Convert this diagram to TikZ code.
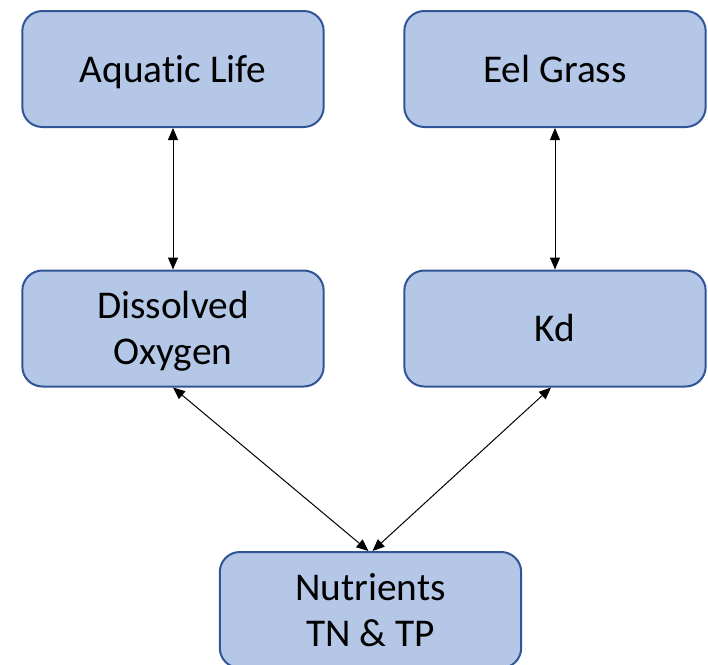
\documentclass[tikz,border=0pt]{standalone}
\usepackage{fontspec}
\setmainfont[Ligatures=NoCommon]{Carlito}
\usetikzlibrary{arrows.meta}
\definecolor{boxfill}{HTML}{B4C7E7}
\definecolor{boxline}{HTML}{2F5597}
\newcommand\bxstrut{\rule[-8.5pt]{0pt}{36.5pt}}
\newcommand\bxtop{\rule{0pt}{28pt}}
\newcommand\bxbot{\rule[-8.5pt]{0pt}{8.5pt}}
\begin{document}
\begin{tikzpicture}[x=0.75pt,y=-0.75pt,
  box/.style={draw=boxline,fill=boxfill,line width=1.5pt,rounded corners=15pt,
    minimum width=226pt,minimum height=87pt,inner sep=0pt,align=center,
    font=\fontsize{29.5}{34.5}\selectfont},
  link/.style={draw=black,line width=0.75pt,{Triangle[length=9pt,width=7.5pt]}-{Triangle[length=9pt,width=7.5pt]}}]
\useasboundingbox (0,0) rectangle (708,665);
\node[box] (al) at (173,69) {\bxstrut Aquatic Life};
\node[box] (eg) at (555,69) {\bxstrut Eel Grass};
\node[box] (do) at (173,328.5) {\bxtop Dissolved\\\bxbot Oxygen};
\node[box] (kd) at (555,328.5) {\bxstrut Kd};
\node[box] (nu) at (370.5,610) {\bxtop Nutrients\\\bxbot TN \& TP};
\draw[link] (al.south) -- (do.north);
\draw[link] (eg.south) -- (kd.north);
\draw[link] (do.south) -- ([xshift=-1.5pt]nu.north);
\draw[link] ([xshift=-3pt]kd.south) -- ([xshift=1.5pt]nu.north);
\end{tikzpicture}
\end{document}
